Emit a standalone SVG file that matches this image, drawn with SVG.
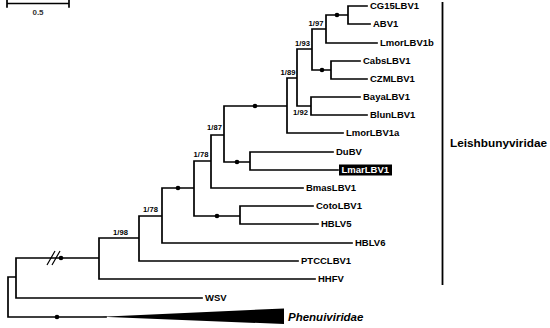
<svg xmlns="http://www.w3.org/2000/svg" width="550" height="328" viewBox="0 0 550 328">
<style>
.br{fill:none;stroke:#000;stroke-width:1.7;stroke-linecap:square}
.lf{font-family:"Liberation Sans",Arial,sans-serif;font-weight:bold;font-size:9.5px;fill:#000}
.bs{font-family:"Liberation Sans",Arial,sans-serif;font-weight:bold;font-size:7.6px;fill:#000;text-anchor:middle}
.dot{fill:#000}
</style>
<rect width="550" height="328" fill="#fff"/>
<g id="scale">
<path class="br" d="M7,3.5H69M7,0V7M69,0V7" stroke-linecap="butt"/>
<text x="38" y="15" style="font-family:'Liberation Sans',Arial,sans-serif;font-size:8px;font-weight:bold;fill:#333" text-anchor="middle">0.5</text>
</g>
<g id="connectors">
<path class="br" d="M8,277V317M8,277H16M16,258V298M16,298H202M16,258H99M99,238V279M99,279H315M99,238H139M139,216V261M139,261H298M139,216H162M162,188V243M162,243H352M162,188H194M194,161V216M194,216H240M240,206V224M240,206H313M240,224H318M194,161H211M211,135V188M211,188H303M211,135H224M224,106V162M224,162H250M250,152V170M250,152H333M250,170H338M224,106H287M287,78V133M287,133H343M287,78H297M297,49V106M297,106H311M311,97V115M311,97H360M311,115H367M297,49H312M312,29V70M312,70H331M331,61V79M331,61H360M331,79H367M312,29H326M326,15V43M326,43H377M326,15H348M348,6V24M348,6H367M348,24H370M8,317H106"/>
<polygon points="102,316.7 284,308.5 284,324" fill="#000"/>
<path d="M47,265L55,251M52,265L60,251" stroke="#000" stroke-width="1.2" fill="none"/>
</g>
<g id="dots">
<circle class="dot" cx="337" cy="15" r="2.3"/>
<circle class="dot" cx="322" cy="70" r="2.3"/>
<circle class="dot" cx="255" cy="106" r="2.3"/>
<circle class="dot" cx="237" cy="162" r="2.3"/>
<circle class="dot" cx="178" cy="188" r="2.3"/>
<circle class="dot" cx="217" cy="216" r="2.3"/>
<circle class="dot" cx="61" cy="258" r="2.3"/>
<circle class="dot" cx="57" cy="317" r="2.3"/>
</g>
<g id="support">
<text class="bs" x="316" y="26">1/97</text>
<text class="bs" x="302.5" y="46">1/93</text>
<text class="bs" x="288" y="75">1/89</text>
<text class="bs" x="300.5" y="115">1/92</text>
<text class="bs" x="214.5" y="130">1/87</text>
<text class="bs" x="201" y="157">1/78</text>
<text class="bs" x="150.5" y="212">1/78</text>
<text class="bs" x="120.5" y="235">1/98</text>
</g>
<g id="n-CG15LBV1"><text class="lf" x="370" y="9.4">CG15LBV1</text></g>
<g id="n-ABV1"><text class="lf" x="373" y="27.4">ABV1</text></g>
<g id="n-LmorLBV1b"><text class="lf" x="380" y="46.4">LmorLBV1b</text></g>
<g id="n-CabsLBV1"><text class="lf" x="363" y="64.4">CabsLBV1</text></g>
<g id="n-CZMLBV1"><text class="lf" x="370" y="82.4">CZMLBV1</text></g>
<g id="n-BayaLBV1"><text class="lf" x="363" y="100.4">BayaLBV1</text></g>
<g id="n-BlunLBV1"><text class="lf" x="370" y="118.4">BlunLBV1</text></g>
<g id="n-LmorLBV1a"><text class="lf" x="346" y="136.4">LmorLBV1a</text></g>
<g id="n-DuBV"><text class="lf" x="336" y="155.4">DuBV</text></g>
<g id="n-LmarLBV1"><rect x="339" y="164.5" width="53" height="11" fill="#000"/><text class="lf" x="341.5" y="173.4" style="fill:#fff">LmarLBV1</text></g>
<g id="n-BmasLBV1"><text class="lf" x="306" y="191.4">BmasLBV1</text></g>
<g id="n-CotoLBV1"><text class="lf" x="316" y="209.4">CotoLBV1</text></g>
<g id="n-HBLV5"><text class="lf" x="321" y="227.4">HBLV5</text></g>
<g id="n-HBLV6"><text class="lf" x="355" y="246.4">HBLV6</text></g>
<g id="n-PTCCLBV1"><text class="lf" x="301" y="264.4">PTCCLBV1</text></g>
<g id="n-HHFV"><text class="lf" x="318" y="282.4">HHFV</text></g>
<g id="n-WSV"><text class="lf" x="205" y="301.4">WSV</text></g>
<g id="n-Phenuiviridae"><text x="288" y="320.5" style="font-family:'Liberation Sans',Arial,sans-serif;font-weight:bold;font-style:italic;font-size:11.5px;fill:#000">Phenuiviridae</text></g>
<g id="clade-Leishbunyviridae">
<path d="M442.5,2V285" stroke="#000" stroke-width="1.8"/>
<text x="450" y="146.5" style="font-family:'Liberation Sans',Arial,sans-serif;font-weight:bold;font-size:11.8px;fill:#000">Leishbunyviridae</text>
</g>
</svg>
